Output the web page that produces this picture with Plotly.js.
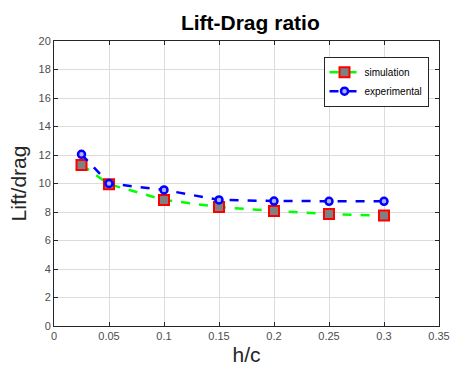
<!DOCTYPE html>
<html>
<head>
<meta charset="utf-8">
<script src="https://cdn.plot.ly/plotly-3.0.1.min.js"></script>
<style>html,body{margin:0;padding:0;background:#fff;}#chart{width:451px;height:373px;}</style>
</head>
<body>
<div id="chart"></div>
<script>
const hc = [0.025, 0.05, 0.1, 0.15, 0.2, 0.25, 0.3];
const simulation = [11.3, 9.95, 8.85, 8.35, 8.07, 7.86, 7.75];
const experimental = [12.05, 10.0, 9.55, 8.85, 8.77, 8.75, 8.75];
const xTicks = [0, 0.05, 0.1, 0.15, 0.2, 0.25, 0.3, 0.35];
const xTickText = ['0', '0.05', '0.1', '0.15', '0.2', '0.25', '0.3', '0.35'];
const yTicks = [0, 2, 4, 6, 8, 10, 12, 14, 16, 18, 20];

const traces = [
  {
    x: hc, y: simulation, name: 'simulation', type: 'scatter', mode: 'lines+markers',
    line: {color: '#00ff00', width: 2.5, dash: 'dash'},
    marker: {symbol: 'square', size: 10, color: '#808080', line: {color: '#ff0000', width: 2}}
  },
  {
    x: hc, y: experimental, name: 'experimental', type: 'scatter', mode: 'lines+markers',
    line: {color: '#0000ff', width: 2.5, dash: 'dash'},
    marker: {symbol: 'circle', size: 7, color: '#b0b0ff', line: {color: '#0000ff', width: 2.5}}
  }
];

const axisCommon = {
  showline: true, linecolor: '#262626', linewidth: 1, mirror: 'ticks',
  ticks: 'inside', ticklen: 4, tickcolor: '#262626',
  showgrid: true, gridcolor: '#dcdcdc', gridwidth: 1, zeroline: false,
  tickfont: {family: 'Liberation Sans, Arial, sans-serif', size: 11, color: '#4d4d4d'}
};

const layout = {
  width: 451, height: 373,
  margin: {l: 54, r: 12, t: 41, b: 47},
  paper_bgcolor: '#ffffff', plot_bgcolor: '#ffffff',
  showlegend: true,
  title: {text: '<b>Lift-Drag ratio</b>', x: 0.555, xanchor: 'center', y: 0.938, yanchor: 'middle',
    font: {family: 'Liberation Sans, Arial, sans-serif', size: 21, color: '#000'}},
  xaxis: Object.assign({}, axisCommon, {
    range: [0, 0.35], tickvals: xTicks, ticktext: xTickText,
    title: {text: 'h/c', standoff: 6, font: {family: 'Liberation Sans, Arial, sans-serif', size: 21, color: '#262626'}}
  }),
  yaxis: Object.assign({}, axisCommon, {
    range: [0, 20], tickvals: yTicks,
    title: {text: 'Lift/drag', standoff: 6, font: {family: 'Liberation Sans, Arial, sans-serif', size: 21, color: '#262626'}}
  }),
  legend: {
    x: 0.70, y: 0.945, xanchor: 'left', yanchor: 'top',
    bgcolor: '#ffffff', bordercolor: '#262626', borderwidth: 1,
    font: {family: 'Liberation Sans, Arial, sans-serif', size: 10, color: '#000'},
    tracegroupgap: 0, itemwidth: 30
  }
};

Plotly.newPlot('chart', traces, layout, {displayModeBar: false, staticPlot: true});
</script>
</body>
</html>
